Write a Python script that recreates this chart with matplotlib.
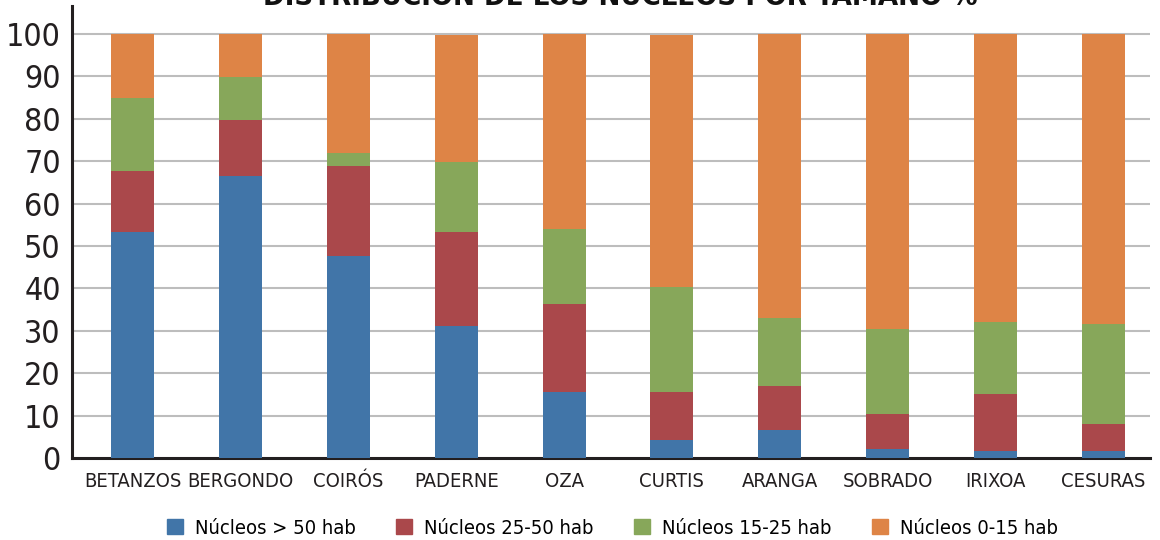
import numpy as np
import matplotlib.pyplot as plt
import matplotlib as mpl
from matplotlib.patches import Patch

mpl.rcParams['font.family'] = ['DejaVu Sans']
mpl.rcParams['font.stretch'] = 'condensed'

municipios = ['BETANZOS', 'BERGONDO', 'COIRÓS', 'PADERNE', 'OZA',
              'CURTIS', 'ARANGA', 'SOBRADO', 'IRIXOA', 'CESURAS']

# % de núcleos en cada tramo de tamaño
mas_50  = [53.3, 66.5, 47.7, 31.2, 15.6, 4.3, 6.6, 2.2, 1.7, 1.7]
n_25_50 = [14.3, 13.3, 21.1, 22.0, 20.8, 11.3, 10.4, 8.2, 13.4, 6.2]
n_15_25 = [17.3, 10.0, 3.0, 16.7, 17.5, 24.6, 16.1, 19.9, 16.9, 23.8]
n_0_15  = [15.1, 10.2, 28.2, 29.8, 46.1, 59.6, 66.9, 69.7, 68.0, 68.3]

series = [mas_50, n_25_50, n_15_25, n_0_15]
nombres = ['Núcleos > 50 hab', 'Núcleos 25-50 hab', 'Núcleos 15-25 hab', 'Núcleos 0-15 hab']
colores = ['#4175A8', '#AA484B', '#87A75A', '#DE8446']


def main():

    fig = plt.figure(figsize=(11.6, 5.4), dpi=100)
    ax = fig.add_axes([0.062, 0.152, 0.929, 0.837])

    x = np.arange(len(municipios))
    base = np.zeros(len(municipios))
    for vals, col in zip(series, colores):
        ax.bar(x, vals, 0.4, bottom=base, color=col, zorder=3)
        base += np.array(vals)

    ax.set_ylim(0, 106.6)
    ax.set_xlim(-0.565, 9.43)
    ax.set_yticks(range(0, 101, 10))
    ax.tick_params(axis='y', length=0, labelsize=23, pad=8, colors='#231F20')
    ax.tick_params(axis='x', length=0, labelsize=14.5, pad=10, colors='#231F20')
    ax.set_xticks(x)
    ax.set_xticklabels(municipios)

    for v in range(10, 101, 10):
        ax.axhline(v, color='#BDBDBD', lw=1.5, zorder=1)

    for s in ['right', 'top']:
        ax.spines[s].set_visible(False)
    for s in ['left', 'bottom']:
        ax.spines[s].set_color('#231F20')
        ax.spines[s].set_linewidth(2.2)

    handles = [Patch(color=c, label=n) for c, n in zip(colores, nombres)]
    fig.legend(handles=handles, loc='center', bbox_to_anchor=(0.528, 0.022),
               ncol=4, frameon=False, fontsize=14.5, handlelength=0.8, handleheight=0.8,
               columnspacing=2.0, handletextpad=0.6)

    fig.text(0.535, 1 - 5 / 540, 'DISTRIBUCIÓN DE LOS NÚCLEOS POR TAMAÑO %',
             ha='center', va='baseline', fontsize=21, fontweight='bold',
             color='#111111')

    fig.savefig('out.png', dpi=100)


if __name__ == "__main__":
    main()
